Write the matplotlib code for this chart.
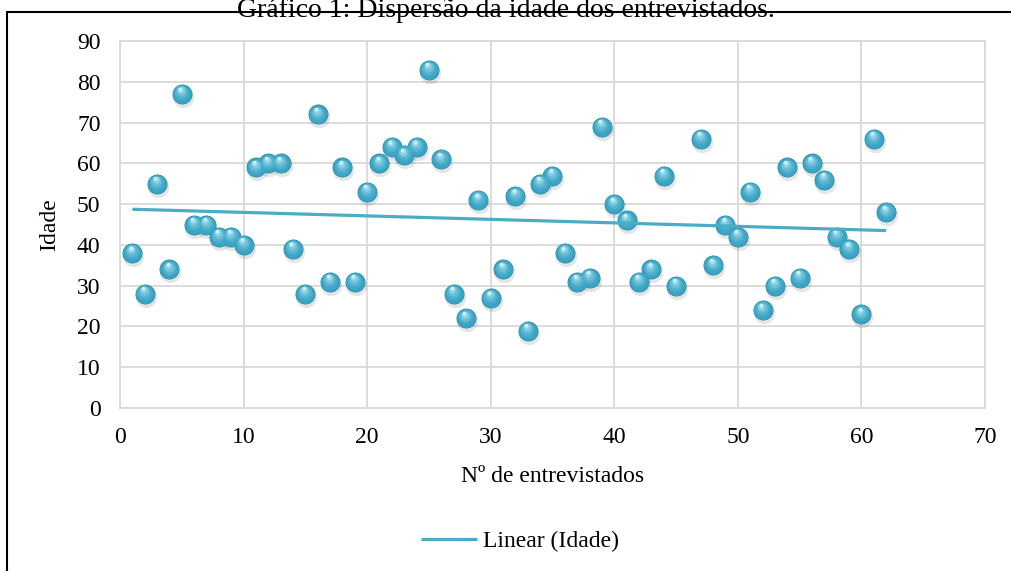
import numpy as np
import matplotlib
matplotlib.use("Agg")
import matplotlib.pyplot as plt
from matplotlib import transforms
from matplotlib.colors import to_rgb
from matplotlib.patches import Rectangle

plt.rcParams["font.family"] = ["Liberation Serif", "DejaVu Serif"]

# idade de cada entrevistado (o nº 46 ficou sem resposta)
entrevistado = np.arange(1, 63)
idade = np.array([
    38, 28, 55, 34, 77, 45, 45, 42, 42, 40,
    59, 60, 60, 39, 28, 72, 31, 59, 31, 53,
    60, 64, 62, 64, 83, 61, 28, 22, 51, 27,
    34, 52, 19, 55, 57, 38, 31, 32, 69, 50,
    46, 31, 34, 57, 30, np.nan, 66, 35, 45, 42,
    53, 24, 30, 59, 32, 60, 56, 42, 39, 23,
    66, 48,
])

x_ticks = [0, 10, 20, 30, 40, 50, 60, 70]
y_ticks = [0, 10, 20, 30, 40, 50, 60, 70, 80, 90]

fs = 17

fig = plt.figure(figsize=(10.12, 5.71), dpi=100)
ax = fig.add_axes([120 / 1012, 1 - 408 / 571, 865 / 1012, 367 / 571])

# moldura do gráfico
fig.patches.append(Rectangle((7 / 1012, -0.1), 1.2, 1 - 12 / 571 + 0.1,
                             transform=fig.transFigure, fill=False,
                             edgecolor="black", linewidth=1.5))
fig.text(0.5, 1 - 17 / 571, "Gráfico 1: Dispersão da idade dos entrevistados.",
         ha="center", va="baseline", fontsize=20)

ok = ~np.isnan(idade)
xs, ys = entrevistado[ok], idade[ok]

# bolinhas com aspecto de esfera: sombra, corpo e degradê até o brilho
shadow = transforms.offset_copy(ax.transData, fig=fig, x=1, y=-3, units="dots")
ax.scatter(xs, ys, s=235, color="#000000", alpha=0.10, linewidths=0,
           transform=shadow, zorder=3)
ax.scatter(xs, ys, s=205, color="#267c96", linewidths=0, zorder=4)
c0 = np.array(to_rgb("#36a3c2"))
c1 = np.array(to_rgb("#c8f1fa"))
n = 7
for i in range(n):
    t = i / (n - 1)
    col = c0 * (1 - t ** 1.5) + c1 * t ** 1.5
    size = 185 * (1 - t) ** 2.0 + 6
    off = transforms.offset_copy(ax.transData, fig=fig, x=-0.3 * i,
                                 y=0.9 * i, units="dots")
    ax.scatter(xs, ys, s=size, color=col, linewidths=0, transform=off,
               zorder=5 + i)

# linha de tendência linear
a, b = np.polyfit(xs, ys, 1)
xt = np.array([xs.min(), xs.max()])
trend, = ax.plot(xt, a * xt + b, color="#4bacc6", linewidth=2.3,
                 solid_capstyle="butt", zorder=20, label="Linear (Idade)")

ax.set_xlim(0, 70)
ax.set_ylim(0, 90)
ax.set_xticks(x_ticks)
ax.set_yticks(y_ticks)
ax.tick_params(length=0, labelsize=fs)
ax.tick_params(axis="x", pad=14)
ax.tick_params(axis="y", pad=14)
ax.grid(True, color="#d9d9d9", linewidth=1.3)
ax.set_axisbelow(True)
for sp in ax.spines.values():
    sp.set_color("#d9d9d9")
    sp.set_linewidth(1.3)

ax.set_xlabel("Nº de entrevistados", fontsize=fs, labelpad=13)
ax.set_ylabel("Idade", fontsize=fs, labelpad=12)

fig.legend(handles=[trend], loc="center",
           bbox_to_anchor=(520 / 1012, 1 - 541 / 571),
           frameon=False, fontsize=fs, handlelength=2.4,
           handletextpad=0.25)

fig.savefig("out.png", dpi=100)
